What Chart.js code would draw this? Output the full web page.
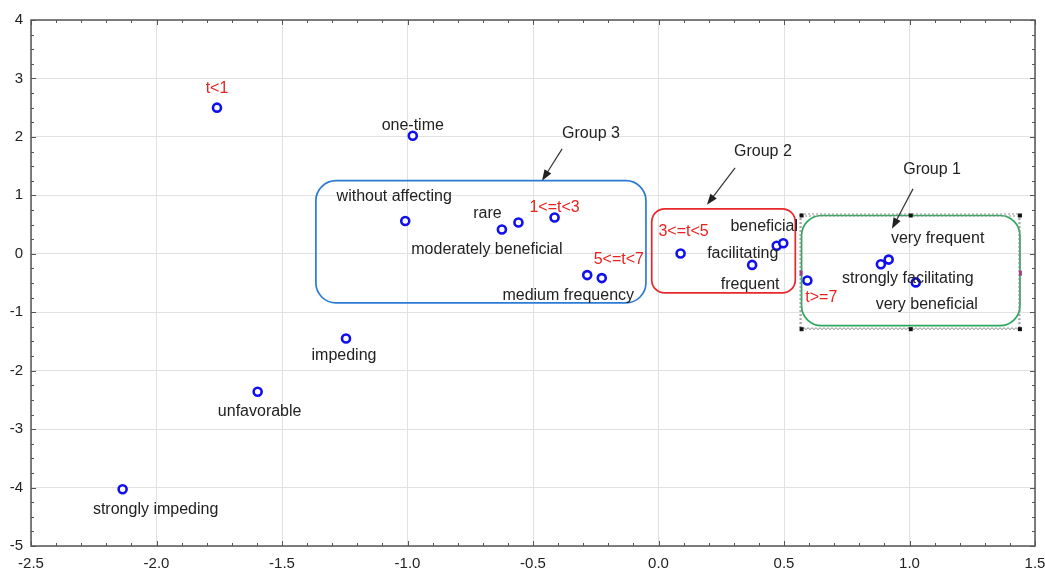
<!DOCTYPE html>
<html>
<head>
<meta charset="utf-8">
<script src="https://cdn.jsdelivr.net/npm/chart.js@4.4.1/dist/chart.umd.min.js"></script>
<style>
  html, body { margin: 0; padding: 0; background: #fff; }
  #wrap { width: 1045px; height: 570px; }
</style>
</head>
<body>
<div id="wrap"><canvas id="chart"></canvas></div>
<script>
// Data
const timeLabels = ['t<1', '1<=t<3', '3<=t<5', '5<=t<7', 't>=7'];
const timeX = [-1.759, -0.414, 0.088, -0.226, 0.593];
const timeY = [2.50, 0.62, 0.005, -0.416, -0.456];

const termLabels = ['one-time', 'without affecting', 'rare', 'moderately beneficial', 'medium frequency',
  'facilitating', 'beneficial', 'frequent', 'strongly facilitating', 'very frequent', 'very beneficial',
  'impeding', 'unfavorable', 'strongly impeding'];
const termX = [-0.979, -1.009, -0.558, -0.624, -0.284, 0.471, 0.497, 0.373, 0.886, 0.917, 1.025, -1.245, -1.597, -2.135];
const termY = [2.02, 0.56, 0.535, 0.415, -0.365, 0.137, 0.18, -0.19, -0.18, -0.10, -0.49, -1.45, -2.36, -4.03];

const xTicks = [-2.5, -2.0, -1.5, -1.0, -0.5, 0.0, 0.5, 1.0, 1.5];
const yTicks = [-5, -4, -3, -2, -1, 0, 1, 2, 3, 4];

// Layout of annotations (pixel offsets of each label from its point)
const labelOffsets = {
  't<1': [0, -19], '1<=t<3': [0, -10], '3<=t<5': [3, -22], '5<=t<7': [17, -18], 't>=7': [14, 17],
  'one-time': [0, -10], 'without affecting': [-11, -24], 'rare': [-31, -9],
  'moderately beneficial': [-15, 20], 'medium frequency': [-19, 20], 'facilitating': [-34, 8],
  'beneficial': [-19, -17], 'frequent': [-2, 20], 'strongly facilitating': [27, 14],
  'very frequent': [49, -21], 'very beneficial': [11, 22], 'impeding': [-2, 17],
  'unfavorable': [2, 20], 'strongly impeding': [33, 20]
};

// Group boxes in data units: x0, x1, y0, y1
const groups = [
  { name: 'Group 3', color: '#2b7bd4', box: [-1.365, -0.05, -0.84, 1.25], r: 20,
    label: [-0.269, 2.05], arrow: [-0.384, 1.795, -0.464, 1.25] },
  { name: 'Group 2', color: '#e8282b', box: [-0.027, 0.545, -0.67, 0.77], r: 13,
    label: [0.416, 1.744], arrow: [0.305, 1.47, 0.193, 0.838] },
  { name: 'Group 1', color: '#2aa85c', box: [0.57, 1.44, -1.23, 0.655], r: 20,
    label: [1.09, 1.436], arrow: [1.014, 1.111, 0.93, 0.427] }
];

const FONT = 'Arial, "Liberation Sans", sans-serif';

const toPoints = (xs, ys) => xs.map((x, i) => ({ x, y: ys[i] }));

const roundRect = (ctx, x, y, w, h, r) => {
  ctx.beginPath();
  ctx.moveTo(x + r, y);
  ctx.arcTo(x + w, y, x + w, y + h, r);
  ctx.arcTo(x + w, y + h, x, y + h, r);
  ctx.arcTo(x, y + h, x, y, r);
  ctx.arcTo(x, y, x + w, y, r);
  ctx.closePath();
};

const arrow = (ctx, x0, y0, x1, y1) => {
  const a = Math.atan2(y1 - y0, x1 - x0);
  const len = 11, half = 4;
  ctx.strokeStyle = '#333';
  ctx.fillStyle = '#222';
  ctx.lineWidth = 1.2;
  ctx.beginPath();
  ctx.moveTo(x0, y0);
  ctx.lineTo(x1 - Math.cos(a) * len * 0.8, y1 - Math.sin(a) * len * 0.8);
  ctx.stroke();
  ctx.beginPath();
  ctx.moveTo(x1, y1);
  ctx.lineTo(x1 - Math.cos(a) * len - Math.sin(a) * half, y1 - Math.sin(a) * len + Math.cos(a) * half);
  ctx.lineTo(x1 - Math.cos(a) * len + Math.sin(a) * half, y1 - Math.sin(a) * len - Math.cos(a) * half);
  ctx.closePath();
  ctx.fill();
};

const frame = {
  id: 'frame',
  afterDatasetsDraw(chart) {
    const { ctx, chartArea: a, scales: { x, y } } = chart;
    ctx.save();

    // group boxes + arrows + titles
    groups.forEach((g) => {
      const x0 = x.getPixelForValue(g.box[0]), x1 = x.getPixelForValue(g.box[1]);
      const y0 = y.getPixelForValue(g.box[3]), y1 = y.getPixelForValue(g.box[2]);
      ctx.strokeStyle = g.color;
      ctx.lineWidth = 1.7;
      roundRect(ctx, x0, y0, x1 - x0, y1 - y0, g.r);
      ctx.stroke();
      if (g.name === 'Group 1') {
        // selection outline left around this box
        ctx.strokeStyle = '#8a8a8a';
        ctx.lineWidth = 1;
        ctx.setLineDash([2, 2]);
        ctx.strokeRect(x0 - 1.5, y0 - 1.5, x1 - x0 + 1.5, y1 - y0 + 5);
        ctx.strokeRect(x0 - 0.5, y0 + 0.5, x1 - x0 - 0.5, y1 - y0 + 2);
        ctx.setLineDash([]);
        ctx.fillStyle = '#111';
        const mx = (x0 + x1) / 2, my = (y0 + y1) / 2 + 2;
        [[x0, y0], [mx, y0], [x1, y0], [x0, y1 + 3.5], [mx, y1 + 3.5], [x1, y1 + 3.5]].forEach(([px, py]) => {
          ctx.fillRect(px - 2, py - 2, 4, 4);
        });
        ctx.fillStyle = '#a0408a';
        ctx.fillRect(x0 - 2, my - 2, 3, 5);
        ctx.fillRect(x1 - 1, my - 2, 3, 5);
      }
      arrow(ctx, x.getPixelForValue(g.arrow[0]), y.getPixelForValue(g.arrow[1]),
        x.getPixelForValue(g.arrow[2]), y.getPixelForValue(g.arrow[3]));
      ctx.fillStyle = '#222';
      ctx.font = '16px ' + FONT;
      ctx.textAlign = 'center';
      ctx.textBaseline = 'middle';
      ctx.fillText(g.name, x.getPixelForValue(g.label[0]), y.getPixelForValue(g.label[1]));
    });

    // point labels
    ctx.font = '16px ' + FONT;
    ctx.textAlign = 'center';
    ctx.textBaseline = 'middle';
    const put = (names, xs, ys, color) => {
      names.forEach((n, i) => {
        const [dx, dy] = labelOffsets[n];
        ctx.fillStyle = color;
        ctx.fillText(n, x.getPixelForValue(xs[i]) + dx, y.getPixelForValue(ys[i]) + dy);
      });
    };
    put(timeLabels, timeX, timeY, '#e8221f');
    put(termLabels, termX, termY, '#222');

    // frame with inner ticks
    ctx.strokeStyle = '#555';
    ctx.lineWidth = 1.5;
    ctx.strokeRect(a.left, a.top, a.right - a.left, a.bottom - a.top);
    ctx.lineWidth = 1;
    ctx.beginPath();
    for (let v = -2.5; v <= 1.5001; v += 0.1) {
      const px = Math.round(x.getPixelForValue(v)) + 0.5;
      const major = Math.abs(v * 2 - Math.round(v * 2)) < 1e-6;
      const l = major ? 5 : 3;
      ctx.moveTo(px, a.bottom); ctx.lineTo(px, a.bottom - l);
      ctx.moveTo(px, a.top); ctx.lineTo(px, a.top + l);
    }
    for (let v = -5; v <= 4.001; v += 0.25) {
      const py = Math.round(y.getPixelForValue(v)) + 0.5;
      const major = Math.abs(v - Math.round(v)) < 1e-6;
      const l = major ? 5 : 3;
      ctx.moveTo(a.left, py); ctx.lineTo(a.left + l, py);
      ctx.moveTo(a.right, py); ctx.lineTo(a.right - l, py);
    }
    ctx.stroke();
    ctx.restore();
  }
};

const pointStyle = {
  pointRadius: 4,
  pointBorderWidth: 2.6,
  pointBorderColor: '#1010ee',
  pointBackgroundColor: '#fff',
  showLine: false
};

new Chart(document.getElementById('chart'), {
  type: 'scatter',
  data: {
    datasets: [
      { label: 'Time', data: toPoints(timeX, timeY), ...pointStyle },
      { label: 'Terms', data: toPoints(termX, termY), ...pointStyle }
    ]
  },
  options: {
    responsive: true,
    maintainAspectRatio: false,
    animation: false,
    layout: { padding: { top: 20, right: 10, left: 0, bottom: 0 } },
    plugins: { legend: { display: false }, tooltip: { enabled: false } },
    scales: {
      x: {
        type: 'linear',
        min: -2.5,
        max: 1.5,
        afterFit: (s) => { s.height = 24; s.paddingLeft = 0; s.paddingRight = 0; },
        afterBuildTicks: (s) => { s.ticks = xTicks.map((v) => ({ value: v })); },
        grid: { color: '#e2e2e2', lineWidth: 1, drawTicks: false },
        border: { display: false },
        ticks: {
          padding: 9,
          color: '#222',
          font: { family: FONT, size: 15 },
          callback: (v) => v.toFixed(1)
        }
      },
      y: {
        type: 'linear',
        min: -5,
        max: 4,
        afterFit: (s) => { s.width = 31; s.paddingTop = 0; s.paddingBottom = 0; },
        afterBuildTicks: (s) => { s.ticks = yTicks.map((v) => ({ value: v })); },
        grid: { color: '#e2e2e2', lineWidth: 1, drawTicks: false },
        border: { display: false },
        ticks: {
          padding: 8,
          color: '#222',
          font: { family: FONT, size: 15 },
          callback: (v) => String(v)
        }
      }
    }
  },
  plugins: [frame]
});
</script>
</body>
</html>
